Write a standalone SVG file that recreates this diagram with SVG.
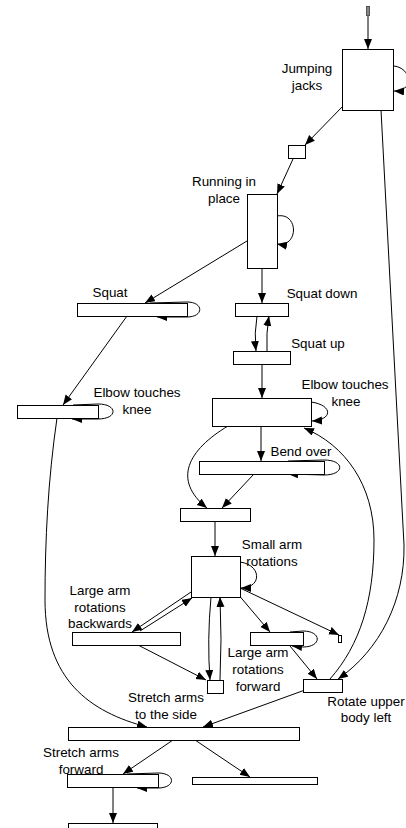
<svg xmlns="http://www.w3.org/2000/svg" width="406" height="828" viewBox="0 0 406 828">
<defs>
<style>
.n{fill:#fff;stroke:#000;stroke-width:1}
.c{fill:none;stroke:#000;stroke-width:1;marker-end:url(#a)}
text{font-family:"Liberation Sans",Arial,sans-serif;font-size:13.4px;fill:#000;text-anchor:middle}
</style>
<marker id="a" markerUnits="userSpaceOnUse" markerWidth="11" markerHeight="9" refX="10" refY="4" orient="auto"><path d="M0,0 L10,4 L0,8 z" fill="#000"/></marker>
</defs>
<rect width="406" height="828" fill="#fff"/>
<g id="connectors">
<path class="c" d="M368 15 L368 49"/>
<path class="c" d="M394 66 C412 68,414 92,394 91"/>
<path class="c" d="M343 106 L305 145"/>
<path class="c" d="M293 159 L277 194"/>
<path class="c" d="M277 216 C299 212,299 248,277 244"/>
<path class="c" d="M247 241 L145 303"/>
<path class="c" d="M262 268 L262 303"/>
<path class="c" d="M150 303 L187 302 C204 302,204 317,187 317 L157 317"/>
<path class="c" d="M127 316 L63 405"/>
<path class="c" d="M73 405 L98 404 C118 404,118 419,98 419 L72 419"/>
<path class="c" d="M57 418 C48 480,45 540,45 600 C45 680,90 712,147 727"/>
<path class="c" d="M257 316 Q254 333,256 351"/>
<path class="c" d="M267 351 Q266 333,269 316"/>
<path class="c" d="M262 364 L262 398"/>
<path class="c" d="M311 402 C333 405,333 420,312 421"/>
<path class="c" d="M261 426 L261 461"/>
<path class="c" d="M228 426 C188 450,172 480,207 508"/>
<path class="c" d="M254 474 L222 508"/>
<path class="c" d="M288 461 L324 460 C345 460,345 475,324 475 L288 474"/>
<path class="c" d="M330 679 C360 645,374 600,374 540 C374 485,345 445,304 428"/>
<path class="c" d="M381 110 L404 545 C405 600,380 650,338 679"/>
<path class="c" d="M215 521 L215 556"/>
<path class="c" d="M240 562 C262 565,262 588,241 588"/>
<path class="c" d="M191 592 L132 632"/>
<path class="c" d="M140 631 L192 598"/>
<path class="c" d="M138 645 L206 680"/>
<path class="c" d="M211 597 Q207 640,210 680"/>
<path class="c" d="M220 680 Q222 640,220 597"/>
<path class="c" d="M237 593 L270 632"/>
<path class="c" d="M240 588 L339 635"/>
<path class="c" d="M290 632 L303 631 C322 631,322 647,303 647 L292 646"/>
<path class="c" d="M290 646 L317 679"/>
<path class="c" d="M305 690 L203 727"/>
<path class="c" d="M173 740 L123 774"/>
<path class="c" d="M195 740 L250 777"/>
<path class="c" d="M127 774 L158 773 C176 773,176 788,158 788 L137 788"/>
<path class="c" d="M113 787 L113 823"/>
</g>
<g id="start"><rect x="366.5" y="6.5" width="3" height="9" fill="#888" stroke="#555"/></g>
<g id="jumping-jacks"><rect class="n" x="342.5" y="49.5" width="51" height="61"/><text x="307" y="73">Jumping</text><text x="307" y="89.5">jacks</text></g>
<g id="junction1"><rect class="n" x="288.5" y="145.5" width="17" height="13"/></g>
<g id="running"><rect class="n" x="247.5" y="194.5" width="30" height="74"/><text x="224" y="186">Running in</text><text x="224" y="202.5">place</text></g>
<g id="squat"><rect class="n" x="77.5" y="303.5" width="110" height="13"/><text x="110" y="297">Squat</text></g>
<g id="elbow-left"><rect class="n" x="17.5" y="405.5" width="81" height="13"/><text x="137" y="397">Elbow touches</text><text x="137" y="414">knee</text></g>
<g id="squat-down"><rect class="n" x="235.5" y="303.5" width="53" height="13"/><text x="322" y="298">Squat down</text></g>
<g id="squat-up"><rect class="n" x="233.5" y="351.5" width="57" height="13"/><text x="318" y="348">Squat up</text></g>
<g id="elbow-center"><rect class="n" x="212.5" y="398.5" width="99" height="28"/><text x="345" y="389">Elbow touches</text><text x="346" y="405.5">knee</text></g>
<g id="bend-over"><rect class="n" x="199.5" y="461.5" width="125" height="13"/><text x="301" y="456">Bend over</text></g>
<g id="merge"><rect class="n" x="180.5" y="508.5" width="70" height="13"/></g>
<g id="small-arm"><rect class="n" x="191.5" y="556.5" width="49" height="41"/><text x="272" y="549">Small arm</text><text x="272" y="566">rotations</text></g>
<g id="large-back"><rect class="n" x="72.5" y="632.5" width="108" height="13"/><text x="100" y="595">Large arm</text><text x="100" y="612">rotations</text><text x="100" y="628">backwards</text></g>
<g id="large-fwd"><rect class="n" x="250.5" y="632.5" width="53" height="13"/><text x="258" y="657">Large arm</text><text x="258" y="674">rotations</text><text x="258" y="691">forward</text></g>
<g id="tiny"><rect class="n" x="338.5" y="635.5" width="3" height="7"/></g>
<g id="stretch-side-small"><rect class="n" x="207.5" y="680.5" width="16" height="13"/><text x="166" y="702">Stretch arms</text><text x="166" y="719">to the side</text></g>
<g id="rotate"><rect class="n" x="303.5" y="679.5" width="39" height="13"/><text x="366" y="706">Rotate upper</text><text x="366" y="722">body left</text></g>
<g id="stretch-side"><rect class="n" x="68.5" y="727.5" width="231" height="13"/></g>
<g id="stretch-fwd"><rect class="n" x="67.5" y="774.5" width="91" height="13"/><text x="81" y="757">Stretch arms</text><text x="81" y="774">forward</text></g>
<g id="empty-right"><rect class="n" x="192.5" y="777.5" width="125" height="7"/></g>
<g id="bottom"><rect class="n" x="68.5" y="823.5" width="89" height="13"/></g>
</svg>
